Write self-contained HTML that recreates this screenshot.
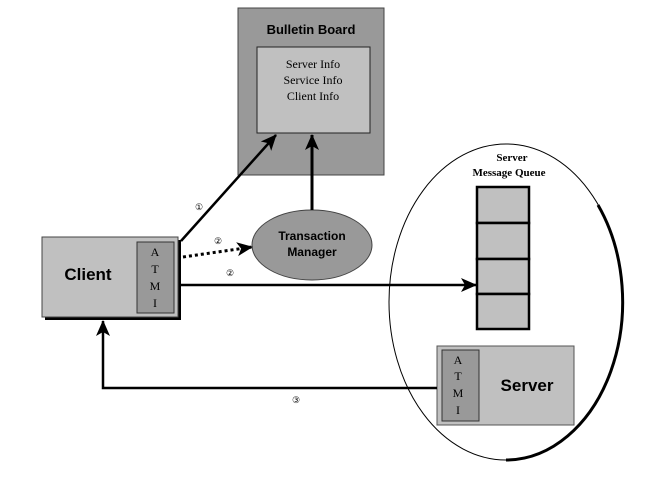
<!DOCTYPE html>
<html><head><style>
body{margin:0;background:#fff;}
svg text{font-family:"Liberation Sans",sans-serif;}
.s{font-family:"Liberation Serif",serif;}
</style></head><body>
<svg width="656" height="472" viewBox="0 0 656 472" xmlns="http://www.w3.org/2000/svg">
<defs>
<marker id="a" markerWidth="10" markerHeight="10" refX="9" refY="5" orient="auto" markerUnits="userSpaceOnUse" viewBox="0 0 10 10">
<path d="M0,0 L10,5 L0,10 L3,5 z" fill="#000"/></marker>
<marker id="b" markerWidth="16" markerHeight="16" refX="15" refY="8" orient="auto" markerUnits="userSpaceOnUse" viewBox="0 0 16 16">
<path d="M0,1 L16,8 L0,15 L4,8 z" fill="#000"/></marker>
</defs>
<!-- Bulletin board -->
<rect x="238" y="8" width="146" height="167" fill="#999" stroke="#444" stroke-width="1"/>
<text x="311" y="34" text-anchor="middle" font-size="13" font-weight="bold">Bulletin Board</text>
<rect x="257" y="47" width="113" height="86" fill="#c0c0c0" stroke="#222" stroke-width="1"/>
<text class="s" x="313" y="68" text-anchor="middle" font-size="12">Server Info</text>
<text class="s" x="313" y="84" text-anchor="middle" font-size="12">Service Info</text>
<text class="s" x="313" y="100" text-anchor="middle" font-size="12">Client Info</text>
<!-- ellipse -->
<ellipse cx="506" cy="302" rx="117" ry="158" fill="#fff" stroke="#000" stroke-width="1"/>
<path d="M598,205 A117,158 0 0 1 506,460" fill="none" stroke="#000" stroke-width="3"/>
<text class="s" x="512" y="161" text-anchor="middle" font-size="11" font-weight="bold">Server</text>
<text class="s" x="509" y="176" text-anchor="middle" font-size="11" font-weight="bold">Message Queue</text>
<g fill="#c0c0c0" stroke="#000" stroke-width="2.5">
<rect x="477" y="187" width="52" height="36"/><rect x="477" y="223" width="52" height="36"/>
<rect x="477" y="259" width="52" height="35"/><rect x="477" y="294" width="52" height="35"/>
</g>
<!-- Server -->
<rect x="437" y="346" width="137" height="79" fill="#c0c0c0" stroke="#555" stroke-width="1"/>
<rect x="442" y="350" width="37" height="71" fill="#999" stroke="#333"/>
<g class="s" font-size="12" text-anchor="middle" font-family="Liberation Serif,serif">
<text x="458" y="364" class="s">A</text><text x="458" y="380" class="s">T</text><text x="458" y="397" class="s">M</text><text x="458" y="414" class="s">I</text></g>
<text x="527" y="391" text-anchor="middle" font-size="17" font-weight="bold">Server</text>
<!-- Client -->
<rect x="45" y="240" width="136" height="80" fill="#000"/>
<rect x="42" y="237" width="136" height="80" fill="#c0c0c0" stroke="#444"/>
<rect x="137" y="242" width="37" height="71" fill="#999" stroke="#333"/>
<text class="s" x="155" y="256" text-anchor="middle" font-size="12">A</text>
<text class="s" x="155" y="273" text-anchor="middle" font-size="12">T</text>
<text class="s" x="155" y="290" text-anchor="middle" font-size="12">M</text>
<text class="s" x="155" y="307" text-anchor="middle" font-size="12">I</text>
<text x="88" y="280" text-anchor="middle" font-size="17" font-weight="bold">Client</text>
<!-- Transaction manager -->
<ellipse cx="312" cy="245" rx="60" ry="35" fill="#999" stroke="#444"/>
<text x="312" y="240" text-anchor="middle" font-size="12" font-weight="bold">Transaction</text>
<text x="312" y="256" text-anchor="middle" font-size="12" font-weight="bold">Manager</text>
<!-- arrows -->
<line x1="181" y1="241" x2="276" y2="135" stroke="#000" stroke-width="2.5" marker-end="url(#b)"/>
<line x1="312" y1="210" x2="312" y2="135" stroke="#000" stroke-width="3" marker-end="url(#b)"/>
<line x1="183" y1="257" x2="252" y2="247" stroke="#000" stroke-width="3" stroke-dasharray="3,3" marker-end="url(#b)"/>
<line x1="181" y1="285" x2="476" y2="285" stroke="#000" stroke-width="2.5" marker-end="url(#b)"/>
<polyline points="437,388 103,388 103,321" fill="none" stroke="#000" stroke-width="2.5" marker-end="url(#b)"/>
<g font-size="9">
<text x="195" y="210">①</text><text x="214" y="244">②</text><text x="226" y="276">②</text><text x="292" y="403">③</text>
</g>
</svg>
</body></html>
